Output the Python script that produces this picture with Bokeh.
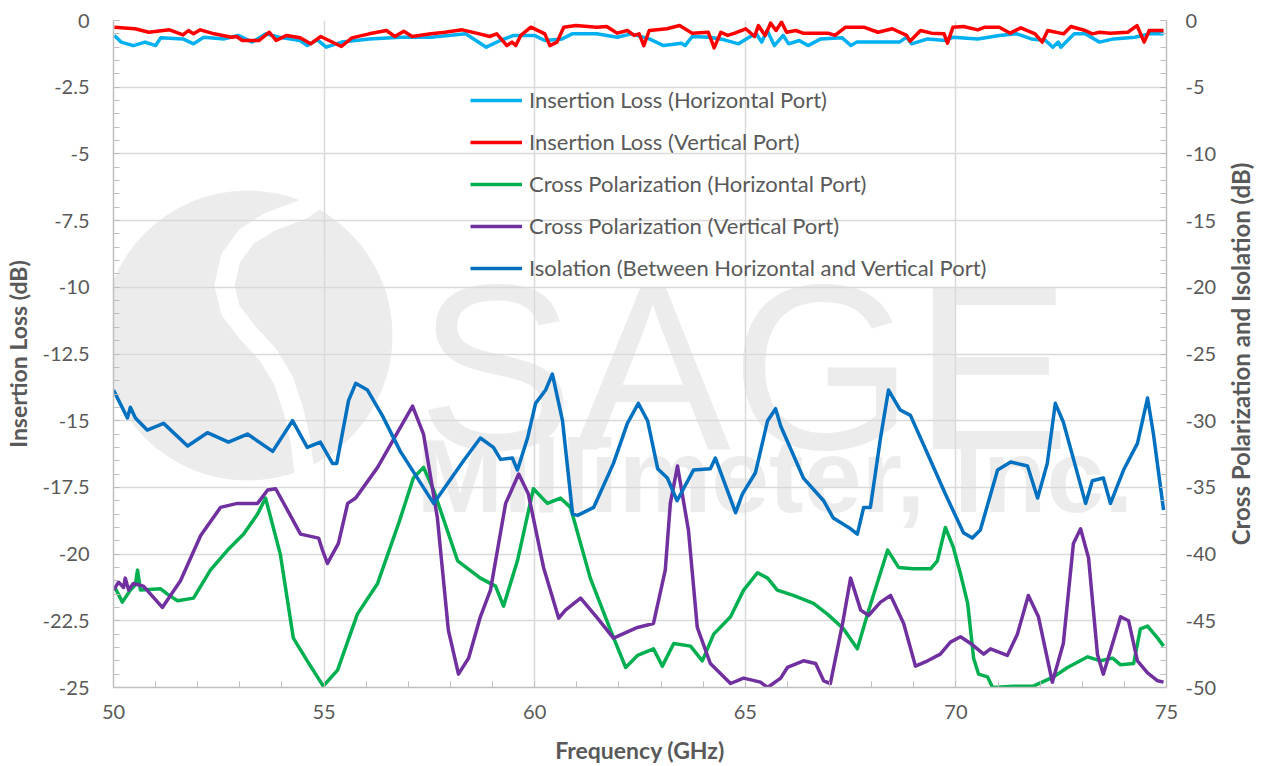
import math
from bokeh.plotting import figure
from bokeh.layouts import row
from bokeh.models import Range1d, LinearAxis, SingleIntervalTicker, Legend, LegendItem
from bokeh.embed import file_html
from bokeh.resources import INLINE
from bokeh.core.properties import value

# ---------------- data ----------------
il_h_f = [50.02, 50.18, 50.47, 50.75, 51.0, 51.12, 51.65, 51.9, 52.14, 52.63, 52.96, 53.29, 53.62, 53.94,
          54.43, 54.6, 54.84, 55.05, 55.42, 56.07, 56.81, 57.54, 58.36, 58.85, 59.18, 59.5, 59.99, 60.24,
          60.65, 60.89, 61.47, 61.96, 62.29, 62.72, 63.06, 63.48, 63.57, 63.74, 64.16, 64.5, 64.84, 65.09,
          65.26, 65.39, 65.52, 65.69, 65.9, 66.03, 66.28, 66.49, 66.79, 67.3, 67.51, 67.64, 68.15, 68.66,
          68.83, 68.95, 69.33, 69.76, 69.93, 70.52, 71.03, 71.45, 71.79, 72.13, 72.3, 72.43, 72.49, 72.81,
          73.07, 73.41, 73.74, 74.25, 74.59, 74.93]
il_h_v = [-0.56, -0.81, -0.94, -0.81, -0.94, -0.65, -0.69, -0.875, -0.625, -0.69, -0.56, -0.81, -0.5, -0.625,
          -0.75, -0.94, -0.725, -1.0, -0.81, -0.69, -0.625, -0.625, -0.5, -1.0, -0.75, -0.56, -0.56, -0.75,
          -0.69, -0.5, -0.5, -0.625, -0.5, -0.69, -0.94, -0.85, -0.94, -0.6, -0.625, -0.725, -0.875, -0.625,
          -0.5, -0.81, -0.375, -0.94, -0.56, -0.875, -0.75, -0.94, -0.69, -0.65, -0.94, -0.81, -0.81, -0.81,
          -0.625, -0.875, -0.69, -0.75, -0.625, -0.69, -0.56, -0.5, -0.69, -0.75, -1.0, -0.81, -1.0, -0.5,
          -0.5, -0.81, -0.69, -0.625, -0.5, -0.5]

il_v_f = [50.02, 50.51, 50.84, 51.33, 51.65, 51.78, 51.9, 52.06, 52.39, 52.8, 52.92, 53.06, 53.45, 53.7,
          53.86, 54.11, 54.43, 54.68, 54.92, 55.41, 55.66, 56.07, 56.48, 56.68, 56.89, 57.09, 57.54, 57.87,
          58.28, 58.69, 58.93, 59.1, 59.34, 59.46, 59.55, 59.67, 59.91, 60.24, 60.36, 60.53, 60.69, 60.98,
          61.47, 61.71, 61.96, 62.2, 62.36, 62.48, 62.59, 62.72, 63.14, 63.44, 63.74, 64.12, 64.26, 64.42,
          64.58, 64.75, 65.01, 65.22, 65.31, 65.47, 65.6, 65.73, 65.86, 65.98, 66.2, 66.37, 66.96, 67.13,
          67.38, 67.81, 68.15, 68.49, 68.83, 68.91, 69.16, 69.42, 69.72, 69.8, 69.93, 70.18, 70.52, 70.69,
          71.03, 71.29, 71.54, 71.88, 72.05, 72.18, 72.56, 72.73, 73.07, 73.24, 73.41, 73.66, 74.08, 74.3,
          74.47, 74.59, 74.93]
il_v_v = [-0.25, -0.31, -0.44, -0.35, -0.54, -0.375, -0.5, -0.35, -0.5, -0.625, -0.6, -0.75, -0.75, -0.44,
          -0.75, -0.56, -0.65, -0.875, -0.6, -0.975, -0.65, -0.5, -0.375, -0.6, -0.4, -0.6, -0.5, -0.44,
          -0.35, -0.5, -0.6, -0.5, -0.94, -0.81, -0.94, -0.56, -0.25, -0.5, -0.94, -0.81, -0.25, -0.19,
          -0.25, -0.225, -0.475, -0.375, -0.56, -0.5, -0.94, -0.375, -0.31, -0.19, -0.475, -0.44, -1.025, -0.44,
          -0.56, -0.475, -0.31, -0.6, -0.19, -0.56, -0.1, -0.375, -0.06, -0.44, -0.375, -0.475, -0.475, -0.56,
          -0.25, -0.25, -0.44, -0.31, -0.56, -0.775, -0.375, -0.475, -0.5, -0.85, -0.25, -0.225, -0.35, -0.25,
          -0.25, -0.475, -0.275, -0.5, -0.81, -0.375, -0.5, -0.225, -0.375, -0.5, -0.44, -0.475, -0.44, -0.19,
          -0.81, -0.375, -0.375]

xp_h_f = [50.0, 50.05, 50.21, 50.4, 50.52, 50.57, 50.64, 51.12, 51.28, 51.52, 51.9, 52.3, 52.71, 53.09,
          53.42, 53.61, 53.96, 54.27, 54.6, 54.98, 55.32, 55.79, 56.27, 56.78, 57.12, 57.36, 57.6, 58.17,
          58.71, 59.07, 59.26, 59.59, 59.97, 60.3, 60.61, 60.85, 61.32, 61.8, 62.16, 62.44, 62.82, 63.03,
          63.3, 63.7, 63.98, 64.25, 64.65, 64.96, 65.29, 65.53, 65.76, 66.14, 66.62, 66.95, 67.33, 67.66,
          67.93, 68.38, 68.64, 68.99, 69.4, 69.56, 69.75, 69.94, 70.11, 70.28, 70.42, 70.54, 70.75, 70.87,
          71.37, 71.84, 72.32, 72.65, 73.13, 73.43, 73.72, 73.91, 74.22, 74.38, 74.55, 74.79, 74.93]
xp_h_v = [-42.5, -42.6, -43.6, -42.7, -42.3, -41.2, -42.7, -42.6, -43.0, -43.5, -43.3, -41.2, -39.7, -38.5,
          -37.0, -35.8, -40.0, -46.3, -48.0, -49.9, -48.7, -44.5, -42.2, -37.6, -34.3, -33.5, -35.2, -40.5,
          -41.8, -42.4, -43.9, -40.5, -35.1, -36.2, -35.8, -36.5, -41.8, -45.7, -48.5, -47.6, -47.1, -48.4,
          -46.7, -46.9, -48.0, -46.0, -44.7, -42.7, -41.4, -41.8, -42.7, -43.1, -43.7, -44.5, -45.6, -47.1,
          -44.2, -39.7, -41.0, -41.1, -41.1, -40.5, -38.0, -39.5, -41.5, -43.7, -47.8, -49.0, -49.2, -50.0,
          -49.9, -49.9, -49.2, -48.5, -47.7, -48.0, -47.8, -48.3, -48.2, -45.6, -45.4, -46.3, -46.9]

xp_v_f = [50.0, 50.12, 50.24, 50.28, 50.36, 50.47, 50.71, 51.16, 51.59, 52.07, 52.54, 52.94, 53.42, 53.66,
          53.85, 54.13, 54.44, 54.87, 54.96, 55.08, 55.34, 55.56, 55.75, 56.27, 56.74, 57.1, 57.36, 57.69,
          57.95, 58.19, 58.43, 58.71, 58.95, 59.31, 59.62, 59.85, 60.21, 60.57, 60.73, 61.09, 61.49, 61.87,
          62.44, 62.82, 63.1, 63.22, 63.39, 63.65, 63.86, 64.17, 64.65, 64.96, 65.36, 65.53, 65.84, 66.0,
          66.38, 66.67, 66.86, 67.02, 67.31, 67.5, 67.74, 67.93, 68.21, 68.45, 68.76, 69.04, 69.33, 69.63,
          69.87, 70.11, 70.35, 70.66, 70.82, 71.22, 71.46, 71.72, 71.96, 72.29, 72.55, 72.79, 72.96, 73.15,
          73.36, 73.5, 73.72, 73.91, 74.1, 74.31, 74.55, 74.79, 74.93]
xp_v_v = [-42.7, -42.1, -42.5, -41.8, -42.7, -42.2, -42.4, -44.0, -42.0, -38.6, -36.5, -36.2, -36.2, -35.2,
          -35.1, -36.7, -38.5, -38.8, -39.7, -40.7, -39.2, -36.2, -35.8, -33.5, -30.9, -28.9, -31.0, -37.3,
          -45.7, -49.0, -47.8, -44.7, -42.7, -36.2, -34.0, -35.5, -41.0, -44.8, -44.2, -43.3, -44.8, -46.3,
          -45.5, -45.2, -41.2, -36.2, -33.4, -38.2, -45.5, -48.2, -49.7, -49.3, -49.6, -50.0, -49.3, -48.5,
          -48.0, -48.2, -49.5, -49.7, -45.2, -41.8, -44.2, -44.6, -43.6, -43.1, -45.2, -48.4, -48.0, -47.5,
          -46.6, -46.2, -46.7, -47.5, -47.1, -47.6, -46.0, -43.1, -44.7, -49.6, -46.7, -39.2, -38.1, -40.3,
          -47.5, -49.0, -46.7, -44.7, -45.0, -48.0, -48.9, -49.5, -49.6]

iso_f = [50.0, 50.33, 50.4, 50.52, 50.8, 51.19, 51.76, 52.23, 52.73, 53.18, 53.78, 54.25, 54.6, 54.91,
         55.2, 55.3, 55.58, 55.75, 56.03, 56.38, 56.81, 57.6, 58.31, 58.71, 59.02, 59.19, 59.47, 59.59,
         59.83, 60.02, 60.26, 60.42, 60.66, 60.9, 61.02, 61.4, 61.87, 62.2, 62.46, 62.68, 62.92, 63.15,
         63.38, 63.77, 64.17, 64.29, 64.77, 64.93, 65.24, 65.53, 65.72, 65.84, 66.38, 66.86, 67.09, 67.5,
         67.66, 67.81, 67.97, 68.21, 68.4, 68.68, 68.92, 69.33, 69.75, 70.18, 70.39, 70.58, 70.99, 71.3,
         71.7, 71.94, 72.17, 72.36, 72.55, 73.08, 73.24, 73.5, 73.67, 73.98, 74.31, 74.55, 74.69, 74.93]
iso_v = [-27.7, -29.8, -29.0, -29.8, -30.7, -30.2, -31.9, -30.9, -31.6, -31.0, -32.3, -30.0, -32.0, -31.6,
         -33.2, -33.2, -28.5, -27.2, -27.7, -29.6, -32.3, -36.2, -33.0, -31.3, -32.0, -32.9, -32.8, -33.7,
         -31.3, -28.7, -27.7, -26.5, -30.0, -37.0, -37.1, -36.5, -33.2, -30.2, -28.7, -30.0, -33.6, -34.3,
         -36.0, -33.7, -33.6, -32.8, -36.9, -35.5, -33.9, -30.0, -29.1, -30.4, -34.3, -36.0, -37.3, -38.1,
         -38.5, -36.5, -36.5, -31.3, -27.7, -29.2, -29.6, -32.5, -35.5, -38.4, -38.8, -38.2, -33.7, -33.1,
         -33.4, -35.8, -33.2, -28.7, -30.1, -36.2, -34.5, -34.3, -36.2, -33.7, -31.7, -28.3, -31.0, -36.7]

series_names = ["Insertion Loss (Horizontal Port)", "Insertion Loss (Vertical Port)",
                "Cross Polarization (Horizontal Port)", "Cross Polarization (Vertical Port)",
                "Isolation (Between Horizontal and Vertical Port)"]
series_colors = ["#00B0F0", "#FF0000", "#00B050", "#7030A0", "#0070C0"]

left_ticks = [0, -2.5, -5, -7.5, -10, -12.5, -15, -17.5, -20, -22.5, -25]
left_tick_labels = ["0", "-2.5", "-5", "-7.5", "-10", "-12.5", "-15", "-17.5", "-20", "-22.5", "-25"]
right_ticks = [0, -5, -10, -15, -20, -25, -30, -35, -40, -45, -50]
right_tick_labels = ["0", "-5", "-10", "-15", "-20", "-25", "-30", "-35", "-40", "-45", "-50"]

x_title = "Frequency (GHz)"
left_title = "Insertion Loss (dB)"
right_title = "Cross Polarization and Isolation (dB)"

# ---------------- figure ----------------
TXT = "#595959"
FONT = "Lato"
GRID = "#D9D9D9"
FRAME_W, FRAME_H = 1053, 667
MAIN_W, STRIP_W, H = 1224, 36, 766

p = figure(width=MAIN_W, height=H, output_backend="svg", toolbar_location=None,
           x_range=Range1d(50, 75), y_range=Range1d(-25, 0),
           min_border_left=113, min_border_right=MAIN_W - 113 - FRAME_W,
           min_border_top=20, min_border_bottom=H - 20 - FRAME_H)
p.extra_y_ranges = {"right": Range1d(-50, 0)}
p.outline_line_color = None
p.background_fill_color = "white"

# watermark (decoration), placed by frame pixel position converted to data space
def wx(px):
    return 50 + (px - 113) * 25.0 / FRAME_W

def wy(py):
    return -(py - 20) * 25.0 / FRAME_H

WM = "#ECECEC"
r = p.scatter([wx(247)], [wy(335)], size=290, marker="circle", fill_color=WM, line_color=None)
r.level = "image"
band_px = [322, 302, 268, 246, 230, 224, 230, 248, 268, 283, 293, 300, 306]
band_py = [194, 209, 222, 236, 258, 285, 310, 333, 355, 380, 410, 440, 490]
r = p.line([wx(v) for v in band_px], [wy(v) for v in band_py], line_color="white", line_width=20)
r.level = "image"
r = p.text([wx(417)], [wy(367)], text=["SAGE"], text_font=value("Liberation Sans"),
           text_font_size="235px", text_color=WM, text_align="left", text_baseline="alphabetic")
r.level = "image"
r = p.text([wx(416)], [wy(475)], text=["Millimeter, Inc."], text_font=value("Liberation Sans"),
           text_font_style="bold", text_font_size="104px", text_color=WM, text_align="left",
           text_baseline="alphabetic")
r.level = "image"

# axes
xt = SingleIntervalTicker(interval=5, num_minor_ticks=5)
lt = SingleIntervalTicker(interval=2.5, num_minor_ticks=5)
rt = SingleIntervalTicker(interval=5, num_minor_ticks=5)
p.xaxis.ticker = xt
p.yaxis.ticker = lt
p.xgrid.ticker = xt
p.ygrid.ticker = lt
for g in (p.xgrid, p.ygrid):
    g.grid_line_color = GRID
    g.grid_line_width = 1.5

raxis = LinearAxis(y_range_name="right", ticker=rt)
p.add_layout(raxis, "right")

p.yaxis[0].major_label_overrides = {float(v): s for v, s in zip(left_ticks, left_tick_labels)}
raxis.major_label_overrides = {float(v): s for v, s in zip(right_ticks, right_tick_labels)}

p.xaxis.axis_label = x_title
p.yaxis[0].axis_label = left_title

for ax in [p.xaxis[0], p.yaxis[0], raxis]:
    ax.axis_line_color = "#BFBFBF"
    ax.axis_line_width = 1.5
    ax.major_tick_line_color = "#BFBFBF"
    ax.minor_tick_line_color = "#BFBFBF"
    ax.major_tick_in = 6
    ax.major_tick_out = 0
    ax.minor_tick_in = 6
    ax.minor_tick_out = 0
    ax.major_label_text_font = FONT
    ax.major_label_text_font_size = "20px"
    ax.major_label_text_color = TXT
    ax.axis_label_text_font = FONT
    ax.axis_label_text_font_style = "bold"
    ax.axis_label_text_font_size = "23px"
    ax.axis_label_text_color = TXT

p.xaxis[0].major_label_standoff = 17
p.xaxis[0].axis_label_standoff = 14
p.yaxis[0].major_label_standoff = 24
p.yaxis[0].axis_label_standoff = 8
raxis.major_label_standoff = 19

# series
renderers = []
data = [(il_h_f, il_h_v, "default"), (il_v_f, il_v_v, "default"),
        (xp_h_f, xp_h_v, "right"), (xp_v_f, xp_v_v, "right"), (iso_f, iso_v, "right")]
for (fx, fy, rng), col in zip(data, series_colors):
    rr = p.line(fx, fy, line_color=col, line_width=3.5, line_join="round", y_range_name=rng)
    renderers.append(rr)

items = [LegendItem(label=n, renderers=[rr]) for n, rr in zip(series_names, renderers)]
legend = Legend(items=items, location=(357, 406), orientation="vertical",
                glyph_width=52, glyph_height=20, label_height=20, spacing=15,
                padding=0, margin=0, label_standoff=7,
                label_text_font=FONT, label_text_font_size="22px", label_text_color=TXT,
                background_fill_alpha=0, border_line_alpha=0)
p.add_layout(legend, "center")

# right-hand axis title (reads bottom-to-top, as in the reference) in a narrow strip figure
p2 = figure(width=STRIP_W, height=H, output_backend="svg", toolbar_location=None,
            x_range=Range1d(0, 1), y_range=Range1d(0, 1),
            x_axis_location=None, y_axis_location=None,
            min_border_left=0, min_border_right=0, min_border_top=20,
            min_border_bottom=H - 20 - FRAME_H)
p2.outline_line_color = None
p2.grid.visible = False
p2.text([0.45], [0.5], text=[right_title], angle=math.pi / 2,
        text_align="center", text_baseline="middle", text_font=value(FONT),
        text_font_style="bold", text_font_size="24px", text_color=TXT)

open("out.html", "w").write(file_html(row(p, p2), INLINE))
